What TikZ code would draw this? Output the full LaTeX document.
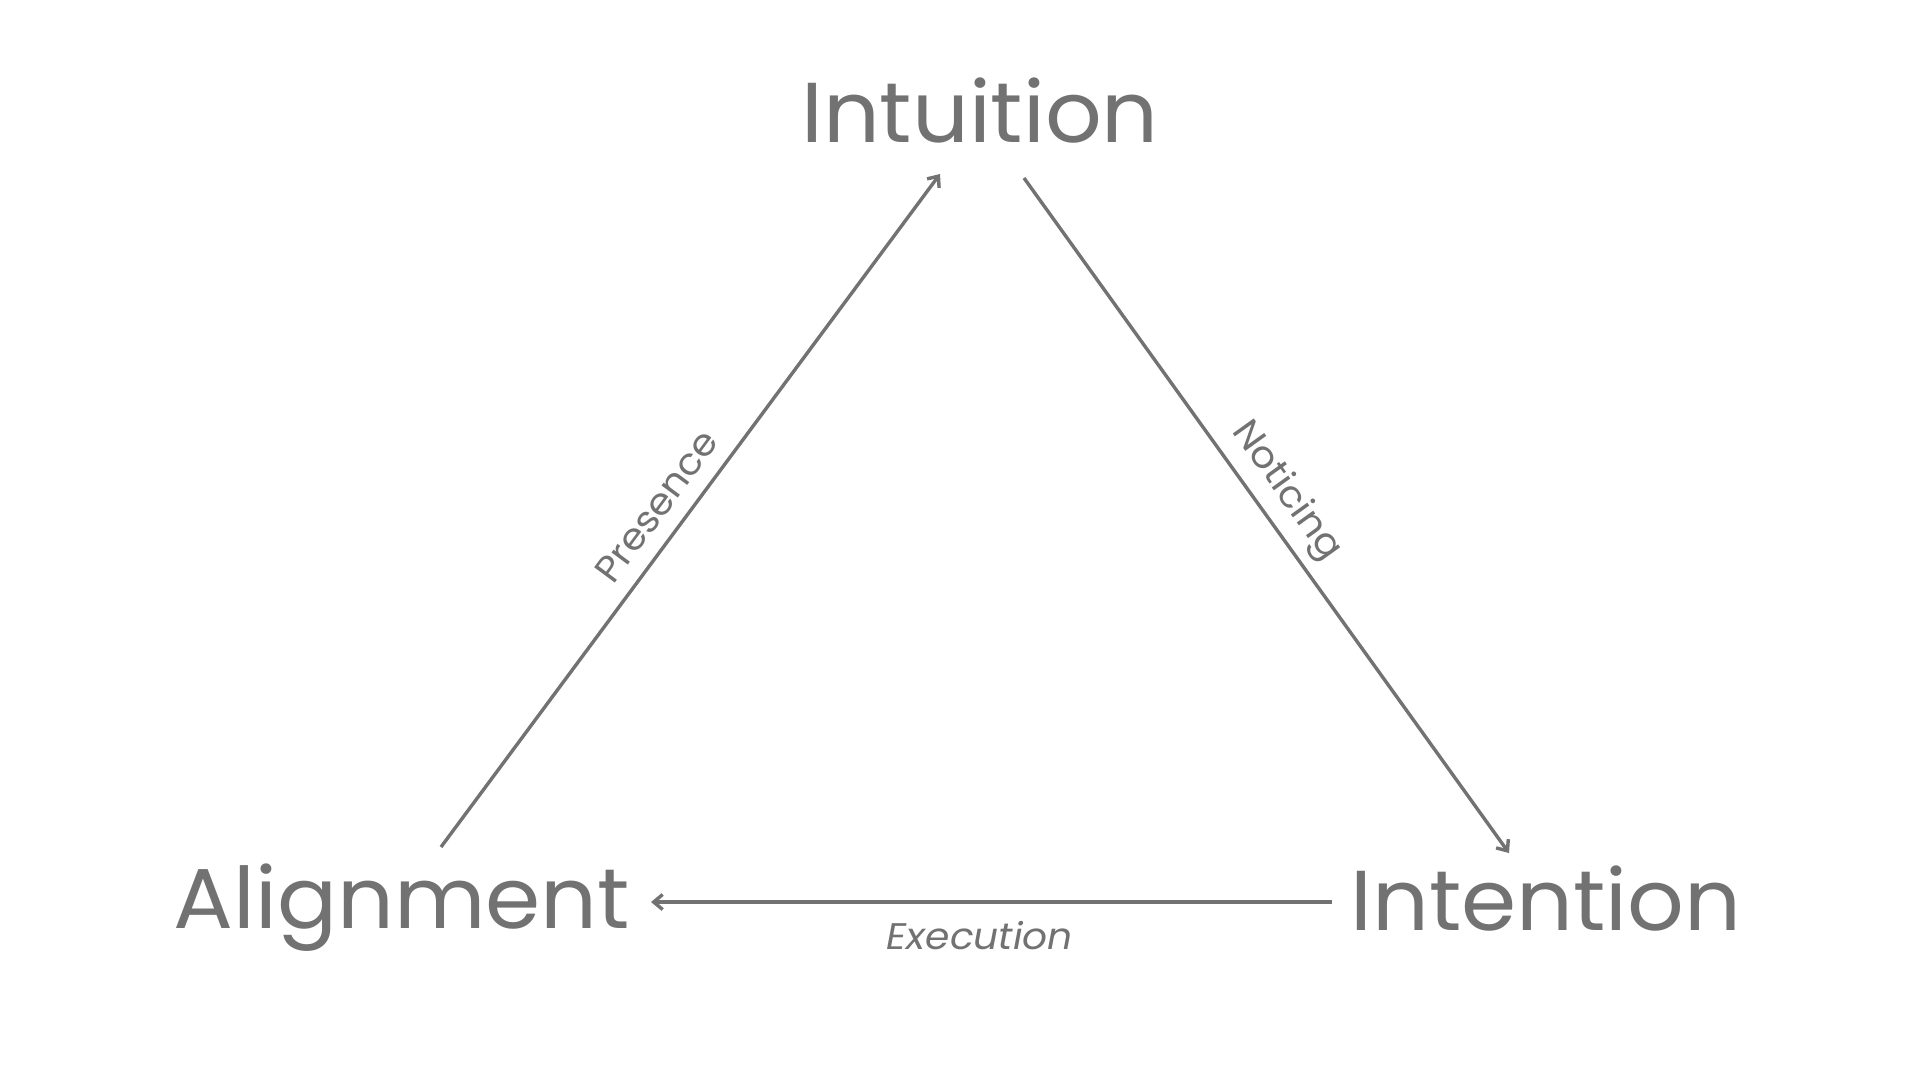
\documentclass[tikz,border=0pt]{standalone}
\usepackage{fontspec}
\setmainfont{Poppins}[FakeStretch=1.045]
\newfontfamily\lblfont{Poppins}[FakeStretch=1.06]
\usetikzlibrary{arrows.meta}
\definecolor{ink}{HTML}{727272}
\tikzset{
  big/.style={font=\fontsize{85}{90}\selectfont, text=ink, inner sep=0pt, anchor=base},
  lbl/.style={font=\lblfont\fontsize{37}{40}\selectfont, text=ink, inner sep=0pt},
  arr/.style={draw=ink, line width=3.4pt, -{Straight Barb[length=9pt,width=15pt,line width=3.4pt]}}
}
\begin{document}
\begin{tikzpicture}[x=1pt,y=-1pt]
\useasboundingbox[fill=white] (0,0) rectangle (1920,1080);
\node[big] (intuition) at (980,142) {Intuition};
\node[big] (alignment) at (402,928) {Alignment};
\node[big] (intention) at (1546,930) {Intention};
\coordinate (pA) at (441,847);
\coordinate (pI1) at (940,174);
\coordinate (pI2) at (1024,178);
\coordinate (pT) at (1509,853);
\coordinate (eT) at (1332,902);
\coordinate (eA) at (651,902);
\draw[arr] (pA) -- node[lbl, pos=0.48, sloped, above=15pt] (presence) {Presence} (pI1);
\draw[arr] (pI2) -- node[lbl, pos=0.49, sloped, above=9pt] (noticing) {Noticing} (pT);
\draw[arr] (eT) -- node[lbl, pos=0.517, below=18pt, font=\lblfont\fontsize{37}{40}\selectfont\itshape] (execution) {Execution} (eA);
\end{tikzpicture}
\end{document}
